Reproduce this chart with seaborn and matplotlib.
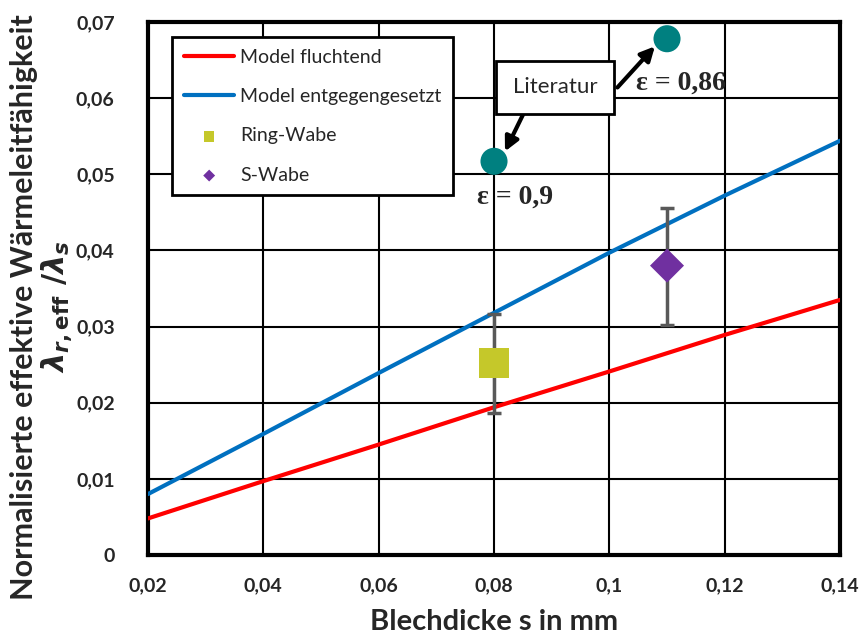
import numpy as np
import pandas as pd
import seaborn as sns
import matplotlib.pyplot as plt

# Modellkurven
s_model = [0.02, 0.04, 0.06, 0.08, 0.10, 0.12, 0.14]
lam_fluchtend = [0.0048, 0.0097, 0.0145, 0.0194, 0.0241, 0.0289, 0.0335]
lam_entgegen = [0.0080, 0.0159, 0.0239, 0.0318, 0.0397, 0.0472, 0.0544]

# Messwerte
s_ring = [0.08]
lam_ring = [0.0252]
err_ring_lo = [0.0187]
err_ring_hi = [0.0316]

s_swabe = [0.11]
lam_swabe = [0.038]
err_swabe_lo = [0.0302]
err_swabe_hi = [0.0456]

# Literatur
s_lit = [0.08, 0.11]
lam_lit = [0.0517, 0.0678]
eps_lit = ["ε = 0,9", "ε = 0,86"]

sns.set_theme(style="white")
plt.rcParams['font.family'] = ['Lato', 'DejaVu Sans']
plt.rcParams['mathtext.fontset'] = 'custom'
plt.rcParams['mathtext.it'] = 'DejaVu Sans:bold:italic'
plt.rcParams['mathtext.rm'] = 'DejaVu Sans:bold'
plt.rcParams['mathtext.bf'] = 'DejaVu Sans:bold'

fig = plt.figure(figsize=(8.62, 6.39), dpi=100)
ax = fig.add_axes([0.1717, 0.1315, 0.8028, 0.8341])

df_model = pd.DataFrame({
    "s": s_model * 2,
    "lam": lam_fluchtend + lam_entgegen,
    "Modell": ["Model fluchtend"] * len(s_model) + ["Model entgegengesetzt"] * len(s_model),
})
sns.lineplot(data=df_model, x="s", y="lam", hue="Modell",
             palette={"Model fluchtend": "#ff0000", "Model entgegengesetzt": "#0070c0"},
             linewidth=3, ax=ax, zorder=3)

# Fehlerbalken
ax.errorbar(s_ring, lam_ring,
            yerr=[np.subtract(lam_ring, err_ring_lo), np.subtract(err_ring_hi, lam_ring)],
            fmt="none", ecolor="#595959", elinewidth=2.5, capsize=5, capthick=2.5, zorder=4)
ax.errorbar(s_swabe, lam_swabe,
            yerr=[np.subtract(lam_swabe, err_swabe_lo), np.subtract(err_swabe_hi, lam_swabe)],
            fmt="none", ecolor="#595959", elinewidth=2.5, capsize=5, capthick=2.5, zorder=4)

sns.scatterplot(x=s_ring, y=lam_ring, marker="s", s=480, color="#c5c82a",
                edgecolor="none", ax=ax, zorder=5, label="Ring-Wabe")
sns.scatterplot(x=s_swabe, y=lam_swabe, marker="D", s=300, color="#7030a0",
                edgecolor="none", ax=ax, zorder=5, label="S-Wabe")
sns.scatterplot(x=s_lit, y=lam_lit, marker="o", s=380, color="#008080",
                edgecolor="none", ax=ax, zorder=5, legend=False)

ax.set_xlim(0.02, 0.14)
ax.set_ylim(0, 0.07)
ax.set_xticks(np.arange(0.02, 0.141, 0.02))
ax.set_yticks(np.arange(0, 0.071, 0.01))
ax.set_xticklabels(["0,02", "0,04", "0,06", "0,08", "0,1", "0,12", "0,14"])
ax.set_yticklabels(["0", "0,01", "0,02", "0,03", "0,04", "0,05", "0,06", "0,07"])
ax.tick_params(axis="both", labelsize=14, length=0)
for lbl in ax.get_xticklabels() + ax.get_yticklabels():
    lbl.set_fontweight("bold")
ax.tick_params(axis="x", pad=16)
ax.tick_params(axis="y", pad=24)

ax.grid(True, color="black", linewidth=1.5)
ax.set_axisbelow(True)
for sp in ax.spines.values():
    sp.set_visible(True)
    sp.set_color("black")
    sp.set_linewidth(3)

ax.set_xlabel("Blechdicke s in mm", fontsize=21, fontweight="bold", labelpad=11)
ax.set_ylabel("")
# zweizeilige y-Beschriftung frei platziert
fig.text(0.049, 0.52,
         "Normalisierte effektive Wärmeleitfähigkeit\n" + r"$\lambda_{r,\mathrm{eff}}\ /\lambda_s$",
         fontsize=22, fontweight="bold", rotation=90, ha="center", va="center",
         multialignment="center", linespacing=1.05)

# Legende
handles, labels = ax.get_legend_handles_labels()
leg = ax.legend(handles, labels, loc="upper left", bbox_to_anchor=(0.035, 0.972),
                borderaxespad=0, fontsize=14, frameon=True, fancybox=False, edgecolor="black",
                framealpha=1, borderpad=0.6, labelspacing=1.15, handlelength=2.6,
                handletextpad=0.3, markerscale=0.35)
leg.get_frame().set_linewidth(2)
leg.set_zorder(10)

# Literatur-Annotation
ax.text(0.0906, 0.0614, "Literatur", fontsize=16, ha="center", va="center", zorder=12,
        bbox=dict(boxstyle="square,pad=0.75", facecolor="white", edgecolor="black", linewidth=2))
ax.annotate("", xy=(0.0819, 0.0530), xytext=(0.0852, 0.0581),
            arrowprops=dict(arrowstyle="-|>,head_length=0.7,head_width=0.35", color="black",
                            lw=3, shrinkA=0, shrinkB=0), zorder=11)
ax.annotate("", xy=(0.1079, 0.0668), xytext=(0.1014, 0.0614),
            arrowprops=dict(arrowstyle="-|>,head_length=0.7,head_width=0.35", color="black",
                            lw=3, shrinkA=0, shrinkB=0), zorder=11)
ax.text(0.0837, 0.0470, eps_lit[0], fontsize=20, fontweight="bold", ha="center", va="center",
        family="Liberation Serif", zorder=12)
ax.text(0.1125, 0.0619, eps_lit[1], fontsize=20, fontweight="bold", ha="center", va="center",
        family="Liberation Serif", zorder=12)

fig.savefig("out.png", dpi=100)
